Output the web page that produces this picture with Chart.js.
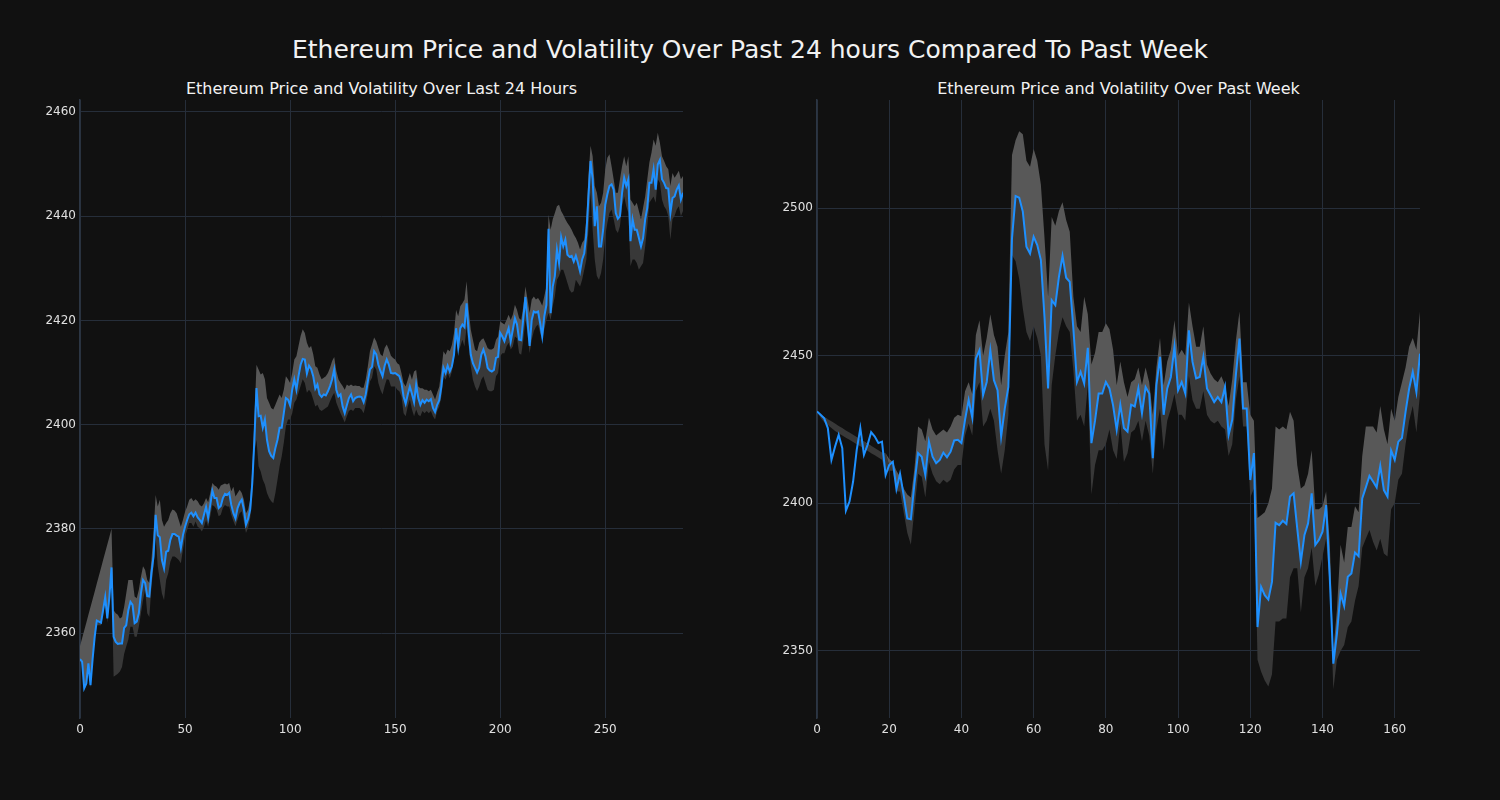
<!DOCTYPE html>
<html>
<head>
<meta charset="utf-8">
<script src="https://cdn.jsdelivr.net/npm/chart.js@4"></script>
<style>
  body { margin: 0; background: #111111; width: 1500px; height: 800px; overflow: hidden; position: relative; font-family: "DejaVu Sans", sans-serif; color: #f2f2f2; }
  .title { position: absolute; white-space: nowrap; transform: translateX(-50%); text-align: center; }
  #mainTitle { left: 750px; top: 35px; font-size: 25px; line-height: 30px; }
  .sub { top: 79px; font-size: 16px; line-height: 20px; }
  canvas { position: absolute; top: 0; }
</style>
</head>
<body>
<div id="mainTitle" class="title">Ethereum Price and Volatility Over Past 24 hours Compared To Past Week</div>
<div class="title sub" style="left:381.5px">Ethereum Price and Volatility Over Last 24 Hours</div>
<div class="title sub" style="left:1118.5px">Ethereum Price and Volatility Over Past Week</div>
<canvas id="dayChart" width="750" height="800" style="left:0"></canvas>
<canvas id="weekChart" width="750" height="800" style="left:750px"></canvas>
<script>
// last 24 hours, 5 minute steps (index 0..287)
const priceDay = [
  2355, 2354.5, 2349.4, 2350.3, 2354.2, 2350, 2355, 2359.3, 2362.4, 2362.2,
  2362, 2364.4, 2366.9, 2362.8, 2367, 2372.6, 2359.3, 2358.3, 2357.9, 2358,
  2358, 2361, 2361.5, 2364.4, 2366, 2365.4, 2361.9, 2362.2, 2363.8, 2367.6,
  2370.2, 2369.6, 2367.1, 2367, 2371.5, 2374.7, 2382.7, 2378.8, 2378.4, 2374,
  2372.4, 2375.6, 2375.8, 2377.9, 2379, 2379, 2378.7, 2378.5, 2376.3, 2378.8,
  2380.4, 2381.7, 2382.8, 2383.1, 2382.4, 2383.1, 2382.2, 2381.7, 2381.1, 2382.7,
  2384.2, 2382.1, 2384.6, 2387.3, 2385.9, 2385.9, 2384, 2384.4, 2385.9, 2386.7,
  2386.5, 2386.9, 2384.6, 2383, 2382, 2384, 2385, 2385.6, 2383.7, 2380.8,
  2381.9, 2383.7, 2388.8, 2397.1, 2407, 2401.6, 2401.7, 2399.4, 2401, 2397.1,
  2394.9, 2394, 2393.6, 2395.5, 2397.1, 2399.4, 2399.4, 2402.2, 2405.1, 2404.8,
  2403.7, 2406.7, 2408.7, 2406.7, 2409.3, 2411.5, 2412.6, 2412.5, 2409.8, 2411.3,
  2410.7, 2409.3, 2406.9, 2407.7, 2405.8, 2405.3, 2405.8, 2405.6, 2406.4, 2407.4,
  2408.7, 2410.6, 2406.7, 2405.4, 2405.8, 2403.5, 2402.2, 2403.7, 2405.1, 2405.8,
  2404.5, 2405.1, 2405.3, 2405.4, 2405.3, 2404.3, 2405.8, 2408.3, 2410.6, 2411.1,
  2414.1, 2413.5, 2411.5, 2410.3, 2409.3, 2411.3, 2412.5, 2411.5, 2409.9, 2409.8,
  2409.9, 2409.6, 2409.3, 2408, 2405.4, 2404, 2405.8, 2407.3, 2405.9, 2404.3,
  2407.7, 2405.1, 2403.8, 2404.7, 2404.2, 2404.8, 2404.5, 2404.9, 2403.2, 2402.4,
  2403.8, 2404.7, 2407.3, 2410.9, 2409.9, 2411.3, 2410.2, 2411.2, 2413.4, 2418.5,
  2414.9, 2418.5, 2419.2, 2418.7, 2423.3, 2417.6, 2413.4, 2411.8, 2410.9, 2410,
  2410.9, 2413.4, 2414.4, 2413.1, 2410.9, 2410.4, 2410.2, 2410.5, 2412.8, 2413,
  2417.6, 2416.9, 2416, 2417.3, 2418.5, 2416, 2418.2, 2420.4, 2419.2, 2416.3,
  2416.2, 2420.4, 2424.5, 2419.8, 2415.1, 2420.1, 2421.7, 2421.5, 2421.7, 2419.5,
  2416.9, 2420.8, 2423, 2437.6, 2421.4, 2426.5, 2428.5, 2433.6, 2431, 2436,
  2434.2, 2435.5, 2432.6, 2432.2, 2432.4, 2431.3, 2432.4, 2431, 2429.4, 2431.7,
  2432.9, 2436.5, 2443.8, 2450.6, 2447.1, 2438.1, 2441.9, 2434.2, 2434.2, 2437.4,
  2442.2, 2444.2, 2445.8, 2446.1, 2445.1, 2440.6, 2439.5, 2440, 2444.5, 2447.4,
  2445.8, 2447.1, 2435.2, 2439.4, 2437.4, 2437.4, 2435.8, 2434.2, 2435.8, 2439.4,
  2441.6, 2446.4, 2446.4, 2449, 2445.1, 2449.9, 2450.8, 2447.1, 2446.4, 2445.4,
  2445.3, 2440.6, 2443.5, 2443.8, 2445.1, 2445.9, 2443.2, 2444.5
];
const upperDay = [
  2357.5, 2359, 2360.5, 2362, 2363.5, 2365, 2366.5, 2368, 2369.5, 2371,
  2372.5, 2374, 2375.5, 2377, 2378.5, 2380, 2364.4, 2363.8, 2363.5, 2362.8,
  2363.1, 2365, 2367.6, 2370.2, 2370.2, 2370.2, 2367, 2366.7, 2368.3, 2370.8,
  2372.8, 2372.1, 2370.2, 2369.6, 2374, 2379.2, 2386.5, 2384.3, 2385.6, 2381.7,
  2380.4, 2381.1, 2381.7, 2383, 2383.7, 2383.5, 2383, 2381.7, 2380.4, 2381.7,
  2383.3, 2384.3, 2385.6, 2385.9, 2385.3, 2385.7, 2385.3, 2384.6, 2384.3, 2384.9,
  2385.9, 2385.1, 2386.9, 2388.8, 2388.3, 2388.1, 2387.5, 2388.3, 2388.5, 2388.7,
  2388.5, 2388.8, 2387.2, 2388.1, 2386.2, 2386.9, 2387.5, 2386.9, 2385.6, 2383,
  2383.7, 2385.6, 2391.4, 2401, 2411.5, 2410.6, 2409.6, 2409.9, 2408.7, 2405.1,
  2404.2, 2403.2, 2402.9, 2403.8, 2404.8, 2405.8, 2405.1, 2406.7, 2409.3, 2408.7,
  2408, 2409.9, 2412.5, 2413.1, 2415.1, 2417, 2418.3, 2417.6, 2415.7, 2414.7,
  2415.1, 2413.5, 2411.2, 2410.9, 2409.6, 2408.7, 2409, 2409.3, 2409.9, 2410.9,
  2412.2, 2413, 2410.3, 2408.7, 2408, 2407.4, 2406.7, 2407.7, 2407.4, 2407.7,
  2407.4, 2407.5, 2407.4, 2407.4, 2407.1, 2407.1, 2408.7, 2411.2, 2414.1, 2415.4,
  2416.7, 2416, 2414.7, 2413.5, 2413.1, 2414.7, 2415.4, 2414.4, 2413.2, 2412.8,
  2412.5, 2411.8, 2411.5, 2409.9, 2408, 2407.3, 2408.6, 2409.9, 2408.6, 2410.2,
  2410.5, 2407.3, 2407, 2407, 2406.7, 2406.7, 2406.4, 2406.7, 2405.8, 2404.8,
  2406.1, 2407.3, 2410.5, 2414.1, 2413.4, 2414.4, 2414.1, 2415.3, 2417.6, 2422,
  2420.8, 2422.7, 2423.3, 2424, 2427.5, 2422, 2418.2, 2416.3, 2414.4, 2414.1,
  2415.7, 2416.3, 2416.6, 2415.7, 2414.7, 2414.4, 2414.4, 2414.7, 2416.3, 2416.9,
  2419.8, 2419.5, 2419.2, 2420.1, 2421.1, 2420.1, 2421.1, 2423, 2422, 2420.4,
  2420.1, 2422.7, 2426.5, 2424, 2421.4, 2424, 2424.6, 2424, 2424.3, 2423.7,
  2422.8, 2424.7, 2426.5, 2440.3, 2437.4, 2439.4, 2440.6, 2441.9, 2442.2, 2441,
  2440.3, 2439.4, 2438.7, 2438.1, 2437.4, 2436.5, 2435.8, 2434.9, 2433.6, 2434.9,
  2435.5, 2439.4, 2447.7, 2453.5, 2451.5, 2445.8, 2444.5, 2441.9, 2442.6, 2444.5,
  2449, 2451.2, 2451.9, 2449.6, 2447.1, 2444.5, 2444.5, 2447.1, 2449.6, 2451.5,
  2449.6, 2451.5, 2443.2, 2442.6, 2441.9, 2442.6, 2441, 2439.4, 2441.6, 2443.8,
  2447.1, 2450.3, 2452.2, 2454.7, 2453.5, 2456, 2454.1, 2451.5, 2450.6, 2449.6,
  2449, 2445.8, 2448.3, 2447.4, 2448, 2448.7, 2447.1, 2447.7
];
const lowerDay = [
  2354.5, 2354, 2349, 2350, 2353.5, 2349.5, 2354.5, 2358.5, 2361.5, 2361.5,
  2361.5, 2363.5, 2366, 2362, 2366, 2371.5, 2351.6, 2351.9, 2352.2, 2352.6,
  2353.5, 2356, 2357.4, 2358.7, 2361.2, 2361.2, 2359.3, 2359.3, 2361.2, 2363.8,
  2366.3, 2368.3, 2363.8, 2363.1, 2368.9, 2372.8, 2378.5, 2372.8, 2370.2, 2367.6,
  2366.3, 2370.2, 2371.5, 2373.7, 2374.7, 2374.7, 2374.4, 2374, 2373.4, 2376,
  2378.5, 2379.8, 2381.1, 2381.1, 2380.4, 2381.4, 2380.4, 2380.1, 2379.5, 2380.4,
  2381.7, 2380.4, 2382.4, 2384.6, 2384.3, 2383.7, 2382.4, 2382.7, 2384, 2384.6,
  2384.3, 2384.3, 2382.7, 2381.5, 2380.5, 2381.8, 2383, 2383.4, 2381.4, 2379.2,
  2380.2, 2382.1, 2386.2, 2394.6, 2397.1, 2392, 2391, 2389.4, 2388.5, 2386.9,
  2385.9, 2385.3, 2384.9, 2386.9, 2389.4, 2392, 2393.9, 2396.5, 2399.7, 2401,
  2401, 2402.2, 2404.2, 2404.8, 2406.1, 2407.4, 2408.7, 2408, 2406.1, 2406.7,
  2406.1, 2404.8, 2403.5, 2403.8, 2402.9, 2402.6, 2402.9, 2403.2, 2403.5, 2404.5,
  2405.4, 2406.1, 2404.2, 2403.2, 2402.2, 2401.3, 2400.4, 2401.6, 2402.6, 2402.9,
  2402.6, 2403.2, 2403.2, 2403.2, 2402.9, 2402.2, 2403.8, 2406.1, 2408.3, 2409,
  2411.2, 2410.6, 2408, 2406.7, 2405.8, 2407.4, 2408.7, 2408.6, 2407.3, 2407.3,
  2407.3, 2406.7, 2406.4, 2405.4, 2402.2, 2401.6, 2403.5, 2404.8, 2402.9, 2401.6,
  2402.9, 2401.9, 2401.6, 2402.6, 2402.2, 2402.6, 2402.2, 2402.6, 2401.6, 2401,
  2402.6, 2403.5, 2405.4, 2409.3, 2408.6, 2409.9, 2408.9, 2410.2, 2412.5, 2416.3,
  2413.7, 2415, 2416.3, 2415, 2418.8, 2415, 2411.2, 2408.6, 2407.3, 2406.4,
  2407.3, 2408.6, 2409.3, 2408, 2406.7, 2406.4, 2406.4, 2406.7, 2409.3, 2409.9,
  2413.1, 2413.7, 2413.7, 2415, 2415.7, 2414.4, 2415, 2416.9, 2416.6, 2413.7,
  2413.4, 2416.3, 2420.1, 2417.6, 2413.7, 2416.3, 2417.9, 2418.8, 2419.2, 2417.6,
  2416.3, 2418.3, 2420.1, 2421.4, 2420.1, 2422.7, 2424.6, 2427.8, 2428.5, 2429.7,
  2429.7, 2428.5, 2427.2, 2425.9, 2425.3, 2425.6, 2427.8, 2427.2, 2426.5, 2427.8,
  2429.7, 2431.7, 2437.4, 2444.5, 2437.4, 2431.7, 2428.5, 2427.8, 2429.1, 2431.7,
  2436.2, 2438.7, 2440.6, 2441.3, 2439.4, 2437.4, 2436.8, 2438.1, 2441.9, 2443.8,
  2441.9, 2440.6, 2430.4, 2431.7, 2431.7, 2431, 2429.7, 2430.4, 2431, 2434.2,
  2438.1, 2442.6, 2443.2, 2443.8, 2442.6, 2447.1, 2446.4, 2443.2, 2441.9, 2441.3,
  2440, 2435.5, 2439.4, 2440.1, 2441.3, 2441.9, 2440, 2441
];

// past week, hourly (index 0..167)
const priceWeek = [
  2431.1, 2430, 2428.8, 2425.5, 2414.7, 2419.2, 2423.2, 2418.7, 2397.5, 2400.6,
  2407.4, 2418.1, 2425.5, 2416.4, 2419.8, 2424.1, 2422.6, 2420.4, 2420.9, 2409.6,
  2413, 2414.1, 2404.8, 2410, 2402.8, 2394.9, 2394.6, 2406.8, 2417, 2415.8,
  2409.6, 2420.9, 2415.8, 2413.6, 2414.7, 2417.2, 2415.6, 2417.5, 2421.3, 2421.5,
  2420.4, 2428.3, 2435, 2429, 2449, 2451.9, 2436.7, 2441.1, 2451.9, 2441.7,
  2438.3, 2422.6, 2432.1, 2439.4, 2489.7, 2504.1, 2503.5, 2498.8, 2486.9, 2484.6,
  2490.3, 2487.5, 2482.4, 2463.2, 2438.9, 2468.8, 2467.1, 2476.7, 2483.8, 2476.4,
  2475, 2459.2, 2441.1, 2444.5, 2440.6, 2452.7, 2420.4, 2428, 2437.2, 2437.2,
  2441.1, 2438.9, 2433.2, 2424.9, 2433.4, 2425.5, 2424.3, 2433.4, 2432.8, 2438.9,
  2430.5, 2439.4, 2437.2, 2415.3, 2440, 2449.6, 2430, 2438.9, 2442.8, 2453,
  2438.3, 2441.1, 2437.2, 2458.6, 2447.9, 2442.3, 2442.8, 2449.6, 2438.9, 2436.6,
  2434.3, 2436, 2434.3, 2439.4, 2423.2, 2428.3, 2443.4, 2455.8, 2432.1, 2432.1,
  2407.9, 2417, 2358.1, 2371.7, 2368.9, 2367.4, 2373.4, 2393.4, 2392.6, 2394.1,
  2393, 2402.3, 2403.4, 2391.5, 2380.2, 2389.3, 2393.2, 2403.4, 2385.9, 2387.6,
  2390.4, 2399.4, 2375.1, 2345.7, 2355.9, 2369.5, 2365.2, 2375.1, 2376.2, 2383.3,
  2382.1, 2401.7, 2405.4, 2409.3, 2407.4, 2405.4, 2412.7, 2404.5, 2402.3, 2417.9,
  2414.7, 2420.9, 2422.1, 2431, 2438.9, 2444.5, 2437.7, 2450.7
];
const upperWeek = [
  2431, 2430, 2429.2, 2428.5, 2427.8, 2427, 2426.2, 2425.5, 2424.7, 2424,
  2423.2, 2422.5, 2421.7, 2421, 2420.2, 2419.5, 2418.7, 2418, 2417.2, 2417,
  2415, 2414, 2411, 2409, 2405, 2403, 2402, 2412, 2426, 2425,
  2421, 2429, 2425, 2423, 2424, 2425, 2424, 2426, 2429, 2430,
  2429.5, 2438, 2441, 2437, 2457, 2462, 2450, 2456, 2464, 2457,
  2453, 2440, 2450, 2458, 2518, 2523, 2526, 2525, 2516, 2514,
  2520, 2516, 2508, 2490, 2470, 2497, 2494, 2499, 2502, 2496,
  2492, 2470, 2460, 2458, 2470, 2464, 2447, 2451, 2458, 2458,
  2461, 2459, 2452, 2440, 2448, 2441, 2436, 2441, 2442, 2446,
  2440, 2446, 2441, 2430, 2446, 2456, 2440, 2448, 2452, 2462,
  2450, 2452, 2450, 2468, 2460, 2453, 2453, 2460, 2447, 2444,
  2442, 2441, 2443, 2440, 2433, 2442, 2455, 2465, 2441, 2441,
  2430, 2428, 2395, 2396, 2397, 2400, 2405, 2426, 2425, 2426,
  2425, 2431, 2428, 2413, 2405, 2406, 2410, 2418, 2398, 2398,
  2399, 2404, 2387, 2350, 2364, 2386, 2380, 2392, 2392, 2399,
  2397, 2416, 2426, 2426, 2426, 2424, 2433, 2425, 2420, 2432,
  2428, 2436, 2441, 2446, 2453, 2456, 2452, 2465
];
const lowerWeek = [
  2431, 2429, 2427.5, 2426.5, 2425.5, 2424.5, 2423.7, 2423, 2422.2, 2421.5,
  2420.8, 2420, 2419.3, 2418.5, 2417.8, 2417, 2416.3, 2415.5, 2414.8, 2410,
  2411, 2411, 2404, 2404, 2397, 2390, 2386, 2398, 2410, 2409,
  2402, 2414, 2410, 2407.5, 2406.5, 2408, 2407, 2408, 2411.5, 2413,
  2413, 2423, 2427, 2423, 2438, 2441, 2426, 2428, 2432, 2428,
  2418, 2410, 2418, 2430, 2484, 2482, 2476, 2466, 2458, 2455,
  2460, 2456, 2450, 2420, 2411, 2440, 2450, 2458, 2463, 2460,
  2458, 2445, 2428, 2430, 2426, 2440, 2403, 2413, 2418, 2418,
  2420, 2425, 2418, 2415, 2427, 2414, 2417, 2424, 2425, 2428,
  2421, 2428, 2423, 2410, 2425, 2432, 2418, 2428, 2432, 2437,
  2430, 2430, 2428, 2443, 2435, 2432, 2432, 2438, 2430, 2428,
  2427, 2428, 2426, 2425, 2416, 2420, 2435, 2443, 2426, 2426,
  2402, 2405, 2347, 2343, 2340, 2338, 2342, 2360, 2360, 2361,
  2361, 2375, 2378, 2378, 2363, 2375, 2378, 2385, 2372, 2376,
  2382, 2388, 2372, 2337, 2347, 2350, 2352, 2358, 2360, 2367,
  2372, 2385, 2388, 2391, 2387, 2384, 2388, 2383, 2382, 2398,
  2400, 2408, 2410, 2420, 2428, 2433, 2424, 2437
];

const xTicksDay = [0, 50, 100, 150, 200, 250];
const yTicksDay = [2360, 2380, 2400, 2420, 2440, 2460];
const xTicksWeek = [0, 20, 40, 60, 80, 100, 120, 140, 160];
const yTicksWeek = [2350, 2400, 2450, 2500];

const gridColor = '#262e3a';
const lightBand = '#585858';
const darkBand = '#383838';

function toPoints(arr) {
  return arr.map((v, i) => ({ x: i, y: v }));
}

function makeChart(id, price, upper, lower, opts) {
  // split point between light and dark part of the band
  const mid = price.map((p, i) => (p >= lower[i] && p <= upper[i]) ? p : upper[i]);
  const ctx = document.getElementById(id).getContext('2d');
  return new Chart(ctx, {
    type: 'line',
    data: {
      datasets: [
        { data: toPoints(price), borderColor: '#1e90ff', borderWidth: 2, pointRadius: 0, fill: false },
        { data: toPoints(upper), borderWidth: 0, pointRadius: 0, borderColor: 'rgba(0,0,0,0)',
          fill: { target: 3, above: lightBand, below: lightBand } },
        { data: toPoints(lower), borderWidth: 0, pointRadius: 0, borderColor: 'rgba(0,0,0,0)',
          fill: { target: 3, above: darkBand, below: darkBand } },
        { data: toPoints(mid), borderWidth: 0, pointRadius: 0, borderColor: 'rgba(0,0,0,0)', fill: false }
      ]
    },
    options: {
      responsive: false,
      animation: false,
      events: [],
      layout: { padding: { left: 0, right: opts.padRight, top: 100, bottom: 0 } },
      plugins: { legend: { display: false }, tooltip: { enabled: false } },
      scales: {
        x: {
          type: 'linear', min: 0, max: opts.xMax,
          afterBuildTicks: s => { s.ticks = opts.xTicks.map(v => ({ value: v })); },
          afterFit: s => { s.height = 82; },
          grid: { color: gridColor, drawTicks: false },
          border: { display: false },
          ticks: { color: '#e0e0e0', padding: 5, font: { family: 'DejaVu Sans', size: 12 }, maxRotation: 0,
                   callback: v => String(v) }
        },
        y: {
          min: opts.yMin, max: opts.yMax,
          afterBuildTicks: s => { s.ticks = opts.yTicks.map(v => ({ value: v })); },
          afterFit: s => { s.width = opts.yWidth; },
          grid: { color: gridColor, drawTicks: false },
          border: { display: true, color: '#2c3644', width: 1.5 },
          ticks: { color: '#e0e0e0', padding: 4, font: { family: 'DejaVu Sans', size: 12 },
                   callback: v => String(v) }
        }
      }
    }
  });
}

makeChart('dayChart', priceDay, upperDay, lowerDay, {
  xMax: 287, yMin: 2343.7, yMax: 2462.3, xTicks: xTicksDay, yTicks: yTicksDay, yWidth: 80, padRight: 67
});
makeChart('weekChart', priceWeek, upperWeek, lowerWeek, {
  xMax: 167, yMin: 2327.3, yMax: 2536.6, xTicks: xTicksWeek, yTicks: yTicksWeek, yWidth: 67, padRight: 80
});
</script>
</body>
</html>
